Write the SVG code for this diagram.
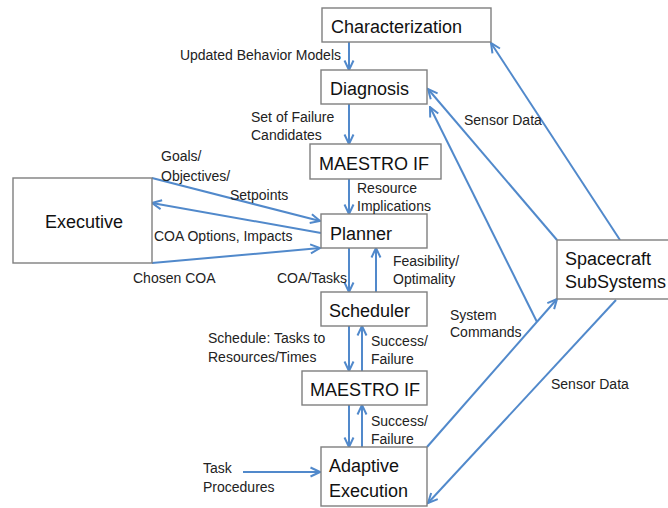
<svg xmlns="http://www.w3.org/2000/svg" width="668" height="508" viewBox="0 0 668 508">
<defs>
<marker id="ah" viewBox="0 0 12 12" refX="10.5" refY="6" markerWidth="12" markerHeight="12" markerUnits="userSpaceOnUse" orient="auto">
<path d="M1,1.5 L10.5,6 L1,10.5" fill="none" stroke="#5189cb" stroke-width="2" stroke-linejoin="miter"/>
</marker>
</defs>
<style>
.box{fill:#fff;stroke:#7f7f7f;stroke-width:1.4}
.nt{font-family:"Liberation Sans",Arial,sans-serif;font-size:18px;fill:#111}
.lb{font-family:"Liberation Sans",Arial,sans-serif;font-size:14px;fill:#222}
.ln{stroke:#5189cb;stroke-width:2;fill:none}
.ar{stroke:#5189cb;stroke-width:2;fill:none;marker-end:url(#ah)}
</style>
<rect width="668" height="508" fill="#fff"/>
<g id="connectors">
<line class="ar" x1="349" y1="42" x2="349" y2="70"/>
<line class="ar" x1="349" y1="104" x2="349" y2="144"/>
<line class="ar" x1="349" y1="179" x2="349" y2="214"/>
<line class="ar" x1="349" y1="248" x2="349" y2="292"/>
<line class="ar" x1="376" y1="292" x2="376" y2="248"/>
<line class="ar" x1="349" y1="326" x2="349" y2="371"/>
<line class="ar" x1="362" y1="371" x2="362" y2="326"/>
<line class="ar" x1="349" y1="405" x2="349" y2="447"/>
<line class="ar" x1="362" y1="447" x2="362" y2="405"/>
<line class="ar" x1="243" y1="472" x2="320" y2="472"/>
<line class="ar" x1="152" y1="178" x2="320" y2="221"/>
<line class="ar" x1="321" y1="233" x2="152" y2="203"/>
<line class="ar" x1="152" y1="263" x2="320" y2="248"/>
<line class="ar" x1="620" y1="240" x2="491" y2="43"/>
<line class="ar" x1="557" y1="240" x2="428" y2="89"/>
<line class="ar" x1="427" y1="447" x2="557" y2="299"/>
<line class="ar" x1="537" y1="322" x2="430" y2="107"/>
<line class="ar" x1="616" y1="300" x2="428" y2="503"/>
</g>
<g id="characterization"><rect class="box" x="322" y="8" width="169" height="34"/><text class="nt" x="331" y="33">Characterization</text></g>
<g id="diagnosis"><rect class="box" x="321" y="70" width="106" height="34"/><text class="nt" x="330" y="95">Diagnosis</text></g>
<g id="maestro-if-1"><rect class="box" x="310" y="144" width="131" height="35"/><text class="nt" x="319" y="170">MAESTRO IF</text></g>
<g id="planner"><rect class="box" x="321" y="214" width="106" height="34"/><text class="nt" x="330" y="240">Planner</text></g>
<g id="executive"><rect class="box" x="13" y="178" width="139" height="85"/><text class="nt" x="45" y="228">Executive</text></g>
<g id="scheduler"><rect class="box" x="321" y="292" width="106" height="34"/><text class="nt" x="329" y="317">Scheduler</text></g>
<g id="maestro-if-2"><rect class="box" x="302" y="371" width="125" height="34"/><text class="nt" x="310" y="396">MAESTRO IF</text></g>
<g id="adaptive-execution"><rect class="box" x="321" y="447" width="106" height="59"/><text class="nt" x="329" y="472">Adaptive</text><text class="nt" x="329" y="497">Execution</text></g>
<g id="spacecraft-subsystems"><rect class="box" x="557" y="240" width="115" height="59"/><text class="nt" x="565" y="265">Spacecraft</text><text class="nt" x="565" y="288">SubSystems</text></g>
<g id="labels">
<text class="lb" x="341" y="60" text-anchor="end">Updated Behavior Models</text>
<text class="lb" x="251" y="122">Set of Failure</text>
<text class="lb" x="251" y="140">Candidates</text>
<text class="lb" x="161" y="161">Goals/</text>
<text class="lb" x="161" y="181">Objectives/</text>
<text class="lb" x="230" y="200">Setpoints</text>
<text class="lb" x="154" y="241">COA Options, Impacts</text>
<text class="lb" x="133" y="283">Chosen COA</text>
<text class="lb" x="277" y="283">COA/Tasks</text>
<text class="lb" x="357" y="193">Resource</text>
<text class="lb" x="357" y="211">Implications</text>
<text class="lb" x="393" y="266">Feasibility/</text>
<text class="lb" x="393" y="284">Optimality</text>
<text class="lb" x="208" y="343">Schedule: Tasks to</text>
<text class="lb" x="208" y="362">Resources/Times</text>
<text class="lb" x="371" y="346">Success/</text>
<text class="lb" x="371" y="364">Failure</text>
<text class="lb" x="371" y="426">Success/</text>
<text class="lb" x="371" y="444">Failure</text>
<text class="lb" x="450" y="320">System</text>
<text class="lb" x="450" y="337">Commands</text>
<text class="lb" x="464" y="125">Sensor Data</text>
<text class="lb" x="551" y="389">Sensor Data</text>
<text class="lb" x="203" y="473">Task</text>
<text class="lb" x="203" y="492">Procedures</text>
</g>
</svg>
